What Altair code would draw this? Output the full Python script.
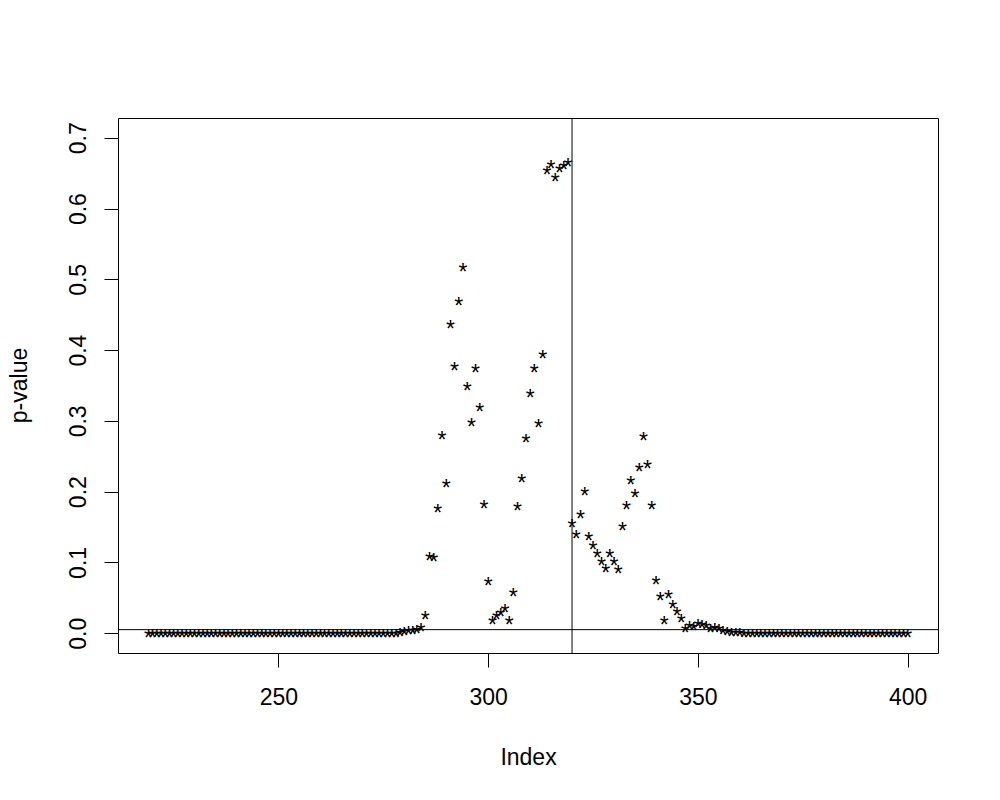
import altair as alt
import pandas as pd

# Index positions (x axis "Index")
index_values = list(range(219, 401))

# p-values (index 219 .. 400)
p_values = [
    # 219 - 277
    0.0, 0.0, 0.0, 0.0, 0.0, 0.0, 0.0, 0.0, 0.0, 0.0,
    0.0, 0.0, 0.0, 0.0, 0.0, 0.0, 0.0, 0.0, 0.0, 0.0,
    0.0, 0.0, 0.0, 0.0, 0.0, 0.0, 0.0, 0.0, 0.0, 0.0,
    0.0, 0.0, 0.0, 0.0, 0.0, 0.0, 0.0, 0.0, 0.0, 0.0,
    0.0, 0.0, 0.0, 0.0, 0.0, 0.0, 0.0, 0.0, 0.0, 0.0,
    0.0, 0.0, 0.0, 0.0, 0.0, 0.0, 0.0, 0.0, 0.0,
    # 278 - 361
    0.0005, 0.0012, 0.0024, 0.004, 0.005, 0.0066, 0.009, 0.025, 0.109, 0.108,
    0.177, 0.280, 0.212, 0.437, 0.377, 0.469, 0.518, 0.349, 0.298, 0.375,
    0.320, 0.182, 0.074, 0.019, 0.025, 0.030, 0.036, 0.018, 0.058, 0.180,
    0.219, 0.276, 0.340, 0.375, 0.297, 0.394, 0.654, 0.663, 0.644, 0.658,
    0.662, 0.666, 0.155, 0.140, 0.168, 0.201, 0.138, 0.124, 0.113, 0.102,
    0.092, 0.113, 0.102, 0.091, 0.151, 0.181, 0.217, 0.198, 0.235, 0.279,
    0.239, 0.181, 0.075, 0.053, 0.018, 0.056, 0.041, 0.031, 0.022, 0.008,
    0.012, 0.010, 0.015, 0.013, 0.011, 0.007, 0.009, 0.008, 0.004, 0.003,
    0.002, 0.0015, 0.001, 0.0005,
    # 362 - 400
    0.0, 0.0, 0.0, 0.0, 0.0, 0.0, 0.0, 0.0, 0.0, 0.0,
    0.0, 0.0, 0.0, 0.0, 0.0, 0.0, 0.0, 0.0, 0.0, 0.0,
    0.0, 0.0, 0.0, 0.0, 0.0, 0.0, 0.0, 0.0, 0.0, 0.0,
    0.0, 0.0, 0.0, 0.0, 0.0, 0.0, 0.0, 0.0, 0.0,
]

hline_values = [0.005]
vline_values = [320]

x_ticks = [250, 300, 350, 400]
y_ticks = [0.0, 0.1, 0.2, 0.3, 0.4, 0.5, 0.6, 0.7]

x_domain = [211.76, 407.24]
y_domain = [-0.028, 0.728]

FONT = "Liberation Sans"
FS = 23

df = pd.DataFrame({"Index": index_values, "pvalue": p_values})
df_h = pd.DataFrame({"h": hline_values})
df_v = pd.DataFrame({"v": vline_values})

x_scale = alt.Scale(domain=x_domain, nice=False, zero=False)
y_scale = alt.Scale(domain=y_domain, nice=False, zero=False)

x_axis = alt.Axis(
    values=x_ticks, title="Index", grid=False, domain=False,
    tickSize=14, tickColor="black", tickWidth=1,
    labelFont=FONT, labelFontSize=FS, labelColor="black",
    labelBaseline="alphabetic", labelAlign="center", labelPadding=37,
    labelFlush=False, labelOverlap=False,
    titleFont=FONT, titleFontSize=FS, titleFontWeight="normal", titleColor="black",
    titleX=410, titleY=111, titleBaseline="alphabetic", titleAlign="center",
)
y_axis = alt.Axis(
    values=y_ticks, format=".1f", title="p-value", grid=False, domain=False,
    tickSize=14, tickColor="black", tickWidth=1,
    labelFont=FONT, labelFontSize=FS, labelColor="black",
    labelAngle=270, labelAlign="center", labelBaseline="alphabetic", labelPadding=19,
    labelFlush=False, labelOverlap=False,
    titleFont=FONT, titleFontSize=FS, titleFontWeight="normal", titleColor="black",
    titleAngle=270, titleX=-92, titleY=267, titleBaseline="alphabetic", titleAlign="center",
)

points = alt.Chart(df).mark_text(
    text="*", font=FONT, fontSize=FS, color="black",
    align="center", baseline="alphabetic", dy=13,
).encode(
    x=alt.X("Index:Q", scale=x_scale, axis=x_axis),
    y=alt.Y("pvalue:Q", scale=y_scale, axis=y_axis),
)

hline = alt.Chart(df_h).mark_rule(color="black", strokeWidth=1).encode(
    y=alt.Y("h:Q", scale=y_scale)
)
vline = alt.Chart(df_v).mark_rule(color="black", strokeWidth=1).encode(
    x=alt.X("v:Q", scale=x_scale)
)

chart = alt.layer(points, hline, vline).properties(
    width=820, height=535,
    autosize=alt.AutoSizeParams(type="none"),
    padding={"left": 110, "top": 110, "right": 54, "bottom": 140},
    background="white",
).configure_view(stroke="black", strokeWidth=1)

chart.save("out.html", embed_options={"renderer": "svg", "actions": False})
